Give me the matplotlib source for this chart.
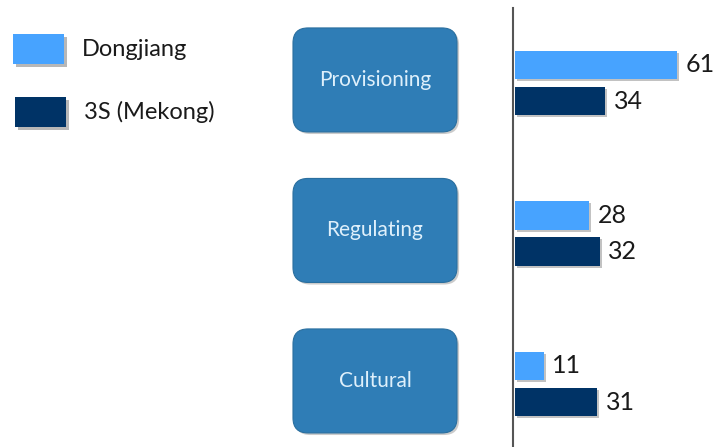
import matplotlib
matplotlib.use("Agg")
import matplotlib.pyplot as plt
from matplotlib.patches import FancyBboxPatch, Rectangle
import matplotlib.patheffects as pe

categories = ["Provisioning", "Regulating", "Cultural"]
series_names = ["Dongjiang", "3S (Mekong)"]
dongjiang = [61, 28, 11]
mekong = [34, 32, 31]

c_light = "#47a3ff"
c_dark = "#003366"
c_box = "#2f7db6"
c_boxtext = "#dff0fb"

plt.rcParams['font.family'] = ['Lato', 'DejaVu Sans']

W, H = 718, 447
fig = plt.figure(figsize=(W / 100, H / 100), dpi=100)

# overlay axes in pixel coordinates (origin bottom-left)
ov = fig.add_axes([0, 0, 1, 1])
ov.set_xlim(0, W)
ov.set_ylim(0, H)
ov.axis("off")

# bar axes
ax_left = 513
ax = fig.add_axes([ax_left / W, 0, (W - ax_left) / W, (H - 8) / H])
ax.set_xlim(0, (W - ax_left) / 2.66)
ax.set_ylim(2 + 0.419, -0.498)
for s in ["top", "right", "bottom"]:
    ax.spines[s].set_visible(False)
ax.spines["left"].set_color("#555555")
ax.spines["left"].set_linewidth(1.5)
ax.set_xticks([])
ax.set_yticks([])
ax.patch.set_alpha(0)

bh = 0.188
off = 0.12
shadow = [pe.SimplePatchShadow(offset=(1.5, -1.5), shadow_rgbFace="#9a9a9a", alpha=0.6), pe.Normal()]
ypos = list(range(len(categories)))
b1 = ax.barh([y - off for y in ypos], dongjiang, height=bh, color=c_light, left=0.6)
b2 = ax.barh([y + off for y in ypos], mekong, height=bh, color=c_dark, left=0.6)
for b in list(b1) + list(b2):
    b.set_path_effects(shadow)
for y, v in zip(ypos, dongjiang):
    ax.text(v + 0.6 + 3.2, y - off, str(v), va="center", ha="left", fontsize=18, color="#1a1a1a")
for y, v in zip(ypos, mekong):
    ax.text(v + 0.6 + 3.2, y + off, str(v), va="center", ha="left", fontsize=18, color="#1a1a1a")

# category boxes
fig.canvas.draw()
bw, bhp = 164, 104
for i, cat in enumerate(categories):
    yc = ax.transData.transform((0, i))[1] + 3
    box = FancyBboxPatch((293, yc - bhp / 2), bw, bhp,
                         boxstyle="round,pad=0,rounding_size=15",
                         facecolor=c_box, edgecolor="#2a6f9f", linewidth=0.8)
    box.set_path_effects([pe.SimplePatchShadow(offset=(1.5, -1.5), shadow_rgbFace="#999999", alpha=0.5), pe.Normal()])
    ov.add_patch(box)
    ov.text(293 + bw / 2, yc, cat, ha="center", va="center", fontsize=15, color=c_boxtext)

# legend
leg = [(13, 34, c_light), (15, 97, c_dark)]
for (x, ytop, col), name in zip(leg, series_names):
    r = Rectangle((x, H - ytop - 30), 51, 30, facecolor=col, edgecolor="none")
    r.set_path_effects([pe.SimplePatchShadow(offset=(2, -2), shadow_rgbFace="#888888", alpha=0.6), pe.Normal()])
    ov.add_patch(r)
    ov.text(x + 69, H - ytop - 15, name, ha="left", va="center", fontsize=17, color="#1a1a1a")

fig.savefig("out.png", dpi=100)
